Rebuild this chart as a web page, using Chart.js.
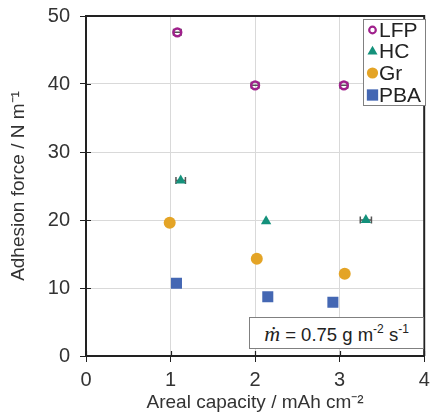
<!DOCTYPE html>
<html lang="en">
<head>
<meta charset="UTF-8">
<title>Adhesion force vs areal capacity</title>
<script src="https://cdn.jsdelivr.net/npm/chart.js"></script>
<style>
    body {
        margin: 0;
        padding: 0;
        background: #fff;
        font-family: 'Liberation Sans', Arial, sans-serif;
    }

    .wrap {
        position: relative;
        width: 432px;
        height: 414px;
    }

    #nota {
        position: absolute;
        left: 249px;
        top: 317px;
        width: 175px;
        height: 32px;
        box-sizing: border-box;
        border: 1px solid #808080;
        background: #fff;
        color: #222;
        font-size: 18.5px;
        line-height: 31px;
        text-align: center;
        white-space: nowrap;
    }

    #nota i {
        font-family: 'Liberation Serif', serif;
        font-size: 22px;
    }

    #nota sup {
        font-size: 12px;
        line-height: 0;
        vertical-align: 8px;
    }
</style>
</head>
<body>
<div class="wrap">
    <canvas id="grafica" width="432" height="414"></canvas>
    <div id="nota"><i>ṁ</i> = 0.75 g m<sup>-2</sup> s<sup>-1</sup></div>
</div>

<script>
    // valores (x = capacidad areal, y = fuerza de adhesión)
    const series = ['LFP', 'HC', 'Gr', 'PBA'];

    const lfpX = [1.08, 2.00, 3.05];
    const lfpY = [47.6, 39.8, 39.8];
    const lfpErr = [0.045, 0.045, 0.045];

    const hcX = [1.12, 2.13, 3.31];
    const hcY = [25.8, 19.8, 20.0];
    const hcErr = [0.056, 0, 0.066];

    const grX = [0.99, 2.02, 3.06];
    const grY = [19.6, 14.3, 12.1];

    const pbaX = [1.07, 2.15, 2.92];
    const pbaY = [10.7, 8.7, 7.9];

    const xTicks = [0, 1, 2, 3, 4];
    const yTicks = [0, 10, 20, 30, 40, 50];

    const colores = {
        LFP: '#a0208c',
        HC: '#14917b',
        Gr: '#e4a426',
        PBA: '#4467b3'
    };

    function puntos(xs, ys) {
        return xs.map((x, i) => ({ x, y: ys[i] }));
    }

    const estilos = {
        LFP: { pointStyle: 'circle', radius: 3.9, borderWidth: 2.5, fill: false },
        HC: { pointStyle: 'triangle', radius: 6, borderWidth: 0, fill: true },
        Gr: { pointStyle: 'circle', radius: 6, borderWidth: 0, fill: true },
        PBA: { pointStyle: 'rect', radius: 7.8, borderWidth: 0, fill: true }
    };

    const datosSeries = {
        LFP: puntos(lfpX, lfpY),
        HC: puntos(hcX, hcY),
        Gr: puntos(grX, grY),
        PBA: puntos(pbaX, pbaY)
    };

    const errores = { LFP: lfpErr, HC: hcErr };

    const datasets = series.map(nombre => {
        const e = estilos[nombre];
        return {
            label: nombre,
            data: datosSeries[nombre],
            pointStyle: e.pointStyle,
            pointRadius: e.radius,
            pointHoverRadius: e.radius,
            pointBorderWidth: e.borderWidth,
            pointBorderColor: colores[nombre],
            pointBackgroundColor: e.fill ? colores[nombre] : 'rgba(0,0,0,0)'
        };
    });

    // barras de error horizontales, debajo de los marcadores
    const barrasError = {
        id: 'barrasError',
        beforeDatasetsDraw(chart) {
            const ctx = chart.ctx;
            const sx = chart.scales.x, sy = chart.scales.y;
            ctx.save();
            ctx.strokeStyle = '#555';
            ctx.lineWidth = 1.5;
            Object.keys(errores).forEach(nombre => {
                datosSeries[nombre].forEach((p, i) => {
                    const err = errores[nombre][i];
                    if (!err) return;
                    const x1 = sx.getPixelForValue(p.x - err);
                    const x2 = sx.getPixelForValue(p.x + err);
                    const y = sy.getPixelForValue(p.y);
                    ctx.beginPath();
                    ctx.moveTo(x1, y);
                    ctx.lineTo(x2, y);
                    ctx.moveTo(x1, y - 3.5);
                    ctx.lineTo(x1, y + 3.5);
                    ctx.moveTo(x2, y - 3.5);
                    ctx.lineTo(x2, y + 3.5);
                    ctx.stroke();
                });
            });
            ctx.restore();
        }
    };

    // marco superior y derecho, y la parte interior de las marcas de los ejes
    const marco = {
        id: 'marco',
        beforeDatasetsDraw(chart) {
            const { ctx, chartArea: a } = chart;
            const sx = chart.scales.x, sy = chart.scales.y;
            ctx.save();
            ctx.strokeStyle = '#222';
            ctx.lineWidth = 2;
            ctx.beginPath();
            ctx.moveTo(a.left, a.top);
            ctx.lineTo(a.right, a.top);
            ctx.lineTo(a.right, a.bottom);
            ctx.stroke();
            ctx.lineWidth = 1.2;
            ctx.beginPath();
            xTicks.forEach(v => {
                const px = Math.round(sx.getPixelForValue(v)) + 0.5;
                ctx.moveTo(px, a.bottom);
                ctx.lineTo(px, a.bottom - 5);
            });
            yTicks.forEach(v => {
                const py = Math.round(sy.getPixelForValue(v)) + 0.5;
                ctx.moveTo(a.left, py);
                ctx.lineTo(a.left + 5, py);
            });
            ctx.stroke();
            ctx.restore();
        }
    };

    // leyenda en recuadro arriba a la derecha
    const leyenda = {
        id: 'leyenda',
        afterDraw(chart) {
            const ctx = chart.ctx;
            const bx = 363.5, by = 19.5, bw = 62, bh = 86;
            ctx.save();
            ctx.fillStyle = '#fff';
            ctx.fillRect(bx, by, bw, bh);
            ctx.strokeStyle = '#808080';
            ctx.lineWidth = 1;
            ctx.strokeRect(bx, by, bw, bh);

            const filas = [30, 51.5, 73, 95];
            const marcas = {
                LFP: { pointStyle: 'circle', radius: 3.3, borderWidth: 2.2 },
                HC: { pointStyle: 'triangle', radius: 5.8, borderWidth: 0 },
                Gr: { pointStyle: 'circle', radius: 5.6, borderWidth: 0 },
                PBA: { pointStyle: 'rect', radius: 8, borderWidth: 0 }
            };
            ctx.font = '21px "Liberation Sans", Arial, sans-serif';
            ctx.textBaseline = 'middle';
            series.forEach((nombre, i) => {
                const m = marcas[nombre];
                ctx.fillStyle = estilos[nombre].fill ? colores[nombre] : 'rgba(0,0,0,0)';
                ctx.strokeStyle = colores[nombre];
                ctx.lineWidth = m.borderWidth;
                Chart.helpers.drawPoint(ctx, { pointStyle: m.pointStyle, radius: m.radius, borderWidth: m.borderWidth, rotation: 0 }, 372.5, filas[i]);
                ctx.fillStyle = '#222';
                ctx.fillText(nombre, 379, filas[i] + 1);
            });
            ctx.restore();
        }
    };

    const fuenteTicks = { family: "'Liberation Sans', Arial, sans-serif", size: 20 };

    new Chart(document.getElementById('grafica'), {
        type: 'scatter',
        data: { datasets },
        options: {
            responsive: false,
            animation: false,
            layout: { padding: { top: 16, right: 2, left: 0, bottom: 0 } },
            plugins: {
                legend: { display: false },
                tooltip: { enabled: false }
            },
            scales: {
                x: {
                    type: 'linear',
                    min: xTicks[0],
                    max: xTicks[xTicks.length - 1],
                    afterBuildTicks: s => { s.ticks = xTicks.map(v => ({ value: v })); },
                    afterFit: s => { s.height = 58; s.paddingLeft = 0; s.paddingRight = 0; },
                    ticks: { font: fuenteTicks, color: '#333', padding: 6, maxRotation: 0 },
                    grid: { color: '#d9d9d9', lineWidth: 1, tickColor: '#222', tickLength: 6 },
                    border: { color: '#222', width: 2 },
                    title: {
                        display: true,
                        text: 'Areal capacity / mAh cm⁻²',
                        font: { family: "'Liberation Sans', Arial, sans-serif", size: 19 },
                        color: '#333',
                        padding: { top: 0, bottom: 0 }
                    }
                },
                y: {
                    min: yTicks[0],
                    max: yTicks[yTicks.length - 1],
                    afterBuildTicks: s => { s.ticks = yTicks.map(v => ({ value: v })); },
                    afterFit: s => { s.width = 86; s.paddingTop = 0; s.paddingBottom = 0; },
                    ticks: { font: fuenteTicks, color: '#333', padding: 10 },
                    grid: { color: '#d9d9d9', lineWidth: 1, tickColor: '#222', tickLength: 6 },
                    border: { color: '#222', width: 2 },
                    title: {
                        display: true,
                        text: 'Adhesion force / N m⁻¹',
                        font: { family: "'Liberation Sans', Arial, sans-serif", size: 19 },
                        color: '#333',
                        padding: { top: 7, bottom: 0 }
                    }
                }
            }
        },
        plugins: [barrasError, marco, leyenda]
    });
</script>
</body>
</html>
